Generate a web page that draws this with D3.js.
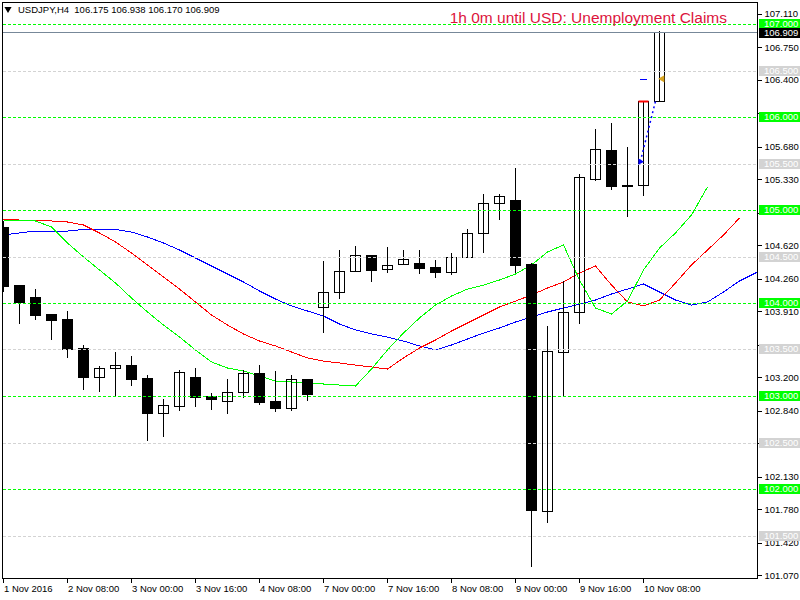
<!DOCTYPE html>
<html><head><meta charset="utf-8">
<script src="https://cdn.jsdelivr.net/npm/d3@7"></script>
<style>
body{margin:0;background:#fff}
svg{display:block}
text{font-family:"Liberation Sans",Arial,sans-serif}
</style>
</head><body>
<svg id="c" width="800" height="600"></svg>
<script>
// ---- data (H4 bars, index 0 = 1 Nov 2016 16:00) ----
const symbol = "USDJPY,H4";
const opens  = [104.817,104.193,104.064,103.882,103.828,103.516,103.204,103.301,103.333,103.193,102.817,102.892,103.204,103.000,102.946,103.043,103.247,102.946,102.871,103.183,103.957,104.118,104.344,104.516,104.366,104.419,104.430,104.387,104.333,104.495,104.753,105.075,105.108,104.419,101.763,103.473,103.903,105.333,105.645,105.269,105.269,106.175];
const highs  = [104.892,104.193,104.161,103.892,103.925,103.559,103.333,103.484,103.441,103.236,102.978,103.290,103.312,103.043,103.193,103.290,103.344,103.280,103.236,103.193,104.462,104.581,104.624,104.516,104.613,104.581,104.581,104.473,104.548,104.806,105.183,105.183,105.462,104.441,103.763,104.247,105.398,105.882,105.946,105.688,106.180,106.938];
const lows   = [104.129,103.785,103.828,103.613,103.419,103.075,103.054,103.000,103.118,102.527,102.570,102.849,102.892,102.860,102.817,102.989,102.914,102.839,102.849,102.957,103.688,104.054,104.344,104.237,104.333,104.419,104.323,104.280,104.312,104.495,104.548,104.903,104.333,101.172,101.645,103.000,103.785,105.323,105.226,104.935,105.161,106.170];
const closes = [104.183,104.011,103.871,103.817,103.505,103.204,103.301,103.333,103.183,102.817,102.903,103.258,102.989,102.968,103.043,103.247,102.935,102.871,103.183,103.021,104.118,104.344,104.516,104.355,104.409,104.473,104.376,104.333,104.495,104.753,105.075,105.150,104.409,101.774,103.484,103.903,105.355,105.656,105.258,105.269,106.172,106.909];
// Alligator lines (values per bar index, shifted forward)
const jaw   = [104.731,104.753,104.774,104.774,104.774,104.790,104.790,104.790,104.763,104.710,104.645,104.570,104.484,104.398,104.312,104.226,104.129,104.043,103.968,103.914,103.860,103.774,103.710,103.667,103.634,103.591,103.538,103.495,103.548,103.613,103.677,103.731,103.796,103.849,103.903,103.946,103.989,104.032,104.097,104.150,104.204,104.118,104.032,103.978,104.011,104.118,104.237,104.323,104.409,104.495];
const teeth = [104.903,104.892,104.887,104.882,104.871,104.839,104.753,104.656,104.538,104.409,104.280,104.150,104.011,103.871,103.763,103.667,103.591,103.538,103.473,103.409,103.376,103.355,103.333,103.312,103.290,103.409,103.516,103.602,103.699,103.785,103.871,103.957,104.021,104.086,104.161,104.226,104.323,104.398,104.193,104.011,103.968,104.032,104.215,104.409,104.570,104.731,104.914];
const lips  = [104.892,104.892,104.882,104.817,104.645,104.495,104.355,104.215,104.054,103.903,103.763,103.634,103.495,103.366,103.301,103.269,103.215,103.161,103.150,103.140,103.129,103.118,103.107,103.290,103.495,103.677,103.839,103.978,104.075,104.150,104.193,104.247,104.312,104.409,104.548,104.624,104.247,103.946,103.882,104.021,104.355,104.591,104.753,104.946,105.247];
const xTickBars   = [0,4,8,12,16,20,24,28,32,36,40];
const xTickLabels = ["1 Nov 2016","2 Nov 08:00","3 Nov 00:00","3 Nov 16:00","4 Nov 08:00","7 Nov 00:00","7 Nov 16:00","8 Nov 08:00","9 Nov 00:00","9 Nov 16:00","10 Nov 08:00"];
const yTicks = [107.110,106.750,106.400,106.040,105.680,105.330,104.970,104.620,104.260,103.910,103.550,103.200,102.840,102.490,102.130,101.780,101.420,101.070];
const hiddenTicks = [106.040,104.970,103.550,102.490];
const greenLevels = [107,106,105,104,103,102];
const grayLevels  = [106.5,105.5,104.5,103.5,102.5,101.5];
const bidPrice = 106.909;
const eventText = "1h 0m until USD: Unemployment Claims";
const tradeEntry = {bar:39.8, price:105.52};
const tradeExit  = {bar:40.75, price:106.17};
const pendingLevel = {bar0:39.8, bar1:40.2, price:106.41};
const arrowMark = {bar:41.05, price:106.41};

// ---- chart ----
const svg = d3.select("#c");
const L = 3, T = 3, R = 757, B = 578;
const x = d3.scaleLinear().domain([0, 41]).range([3.5, 659.5]);
const y = d3.scaleLinear().domain([101, 107]).range([582, 24]);
const px = v => Math.round(v) + 0.5;

svg.append("defs").append("clipPath").attr("id","clip")
  .append("rect").attr("x",L).attr("y",T).attr("width",R-L).attr("height",B-T);
const g = svg.append("g").attr("clip-path","url(#clip)");

// indicator lines (behind candles)
const lineGen = d3.line().x((d,i)=>x(i)).y(d=>y(d));
[[jaw,"#0000ff"],[teeth,"#ff0000"],[lips,"#00ff00"]].forEach(([arr,col])=>{
  g.append("path").attr("d", lineGen(arr)).attr("fill","none")
   .attr("stroke",col).attr("stroke-width",1).attr("shape-rendering","crispEdges");
});

// candles
const bars = d3.range(opens.length);
const cg = g.append("g").attr("shape-rendering","crispEdges");
bars.forEach(i=>{
  const cx = Math.floor(x(i)) + 0.5;
  const o=opens[i], c=closes[i];
  const top = px(y(Math.max(o,c))), bot = px(y(Math.min(o,c)));
  cg.append("line").attr("x1",cx).attr("x2",cx)
    .attr("y1",px(y(highs[i]))).attr("y2",px(y(lows[i]))).attr("stroke","#000");
  if (Math.abs(top-bot) < 1) {
    cg.append("line").attr("x1",cx-5.5).attr("x2",cx+5.5).attr("y1",top).attr("y2",top)
      .attr("stroke","#000").attr("stroke-width",2);
  } else {
    cg.append("rect").attr("x",cx-5).attr("y",top).attr("width",10).attr("height",bot-top)
      .attr("fill", c<o ? "#000" : "none").attr("stroke","#000");
  }
});

// level lines (foreground)
const lg = g.append("g").attr("shape-rendering","crispEdges");
grayLevels.forEach(v=>{
  lg.append("line").attr("x1",L).attr("x2",R).attr("y1",px(y(v))).attr("y2",px(y(v)))
    .attr("stroke","#d3d3d3").attr("stroke-dasharray","3,2");
});
greenLevels.forEach(v=>{
  lg.append("line").attr("x1",L).attr("x2",R).attr("y1",px(y(v))).attr("y2",px(y(v)))
    .attr("stroke","#00ff00").attr("stroke-dasharray","3,2");
});
lg.append("line").attr("x1",L).attr("x2",R).attr("y1",px(y(bidPrice))).attr("y2",px(y(bidPrice)))
  .attr("stroke","#778899");

// trade markers
const last = opens.length-1;
g.append("line").attr("x1",x(last-1)-5).attr("x2",x(last-1)+5)
  .attr("y1",px(y(closes[last-1]))).attr("y2",px(y(closes[last-1])))
  .attr("stroke","#ff0000").attr("stroke-width",2);
g.append("line").attr("x1",x(tradeEntry.bar)).attr("y1",y(tradeEntry.price))
  .attr("x2",x(tradeExit.bar)).attr("y2",y(tradeExit.price))
  .attr("stroke","#0000ff").attr("stroke-width",1.5).attr("stroke-dasharray","2,3");
g.append("path").attr("d",d3.symbol(d3.symbolTriangle,18)())
  .attr("transform",`translate(${x(tradeEntry.bar)},${y(tradeEntry.price)}) rotate(90)`)
  .attr("fill","#0000ff");
g.append("line").attr("x1",x(pendingLevel.bar0)).attr("x2",x(pendingLevel.bar1))
  .attr("y1",px(y(pendingLevel.price))).attr("y2",px(y(pendingLevel.price)))
  .attr("stroke","#0000ff").attr("shape-rendering","crispEdges");
g.append("path").attr("d",d3.symbol(d3.symbolTriangle,22)())
  .attr("transform",`translate(${x(arrowMark.bar)+2},${y(arrowMark.price)}) rotate(-90)`)
  .attr("fill","#daa520");

// frame
svg.append("rect").attr("x",2.5).attr("y",2.5).attr("width",R-2.5).attr("height",B-2)
  .attr("fill","none").attr("stroke","#000").attr("shape-rendering","crispEdges");

// right axis
const ya = svg.append("g").attr("transform",`translate(${R+0.5},0)`)
  .call(d3.axisRight(y).tickValues(yTicks).tickFormat(d3.format(".3f")).tickSize(4).tickPadding(3));
ya.select(".domain").remove();
ya.selectAll("line").attr("stroke","#000").attr("shape-rendering","crispEdges");
ya.selectAll("text").attr("font-size","9.5px").attr("font-family","'Liberation Sans',Arial,sans-serif").attr("fill","#000");
// tick labels fully covered by level boxes in the reference
ya.selectAll(".tick").filter(d=>hiddenTicks.includes(d)).select("text").remove();

function boxLabel(v, bg, off) {
  const yy = Math.round(y(v)) + (off||0);
  svg.append("rect").attr("x",759).attr("y",yy-5).attr("width",41).attr("height",10).attr("fill",bg);
  svg.append("text").attr("x",764).attr("y",yy).attr("dy","0.35em").attr("font-size","9.5px")
    .attr("fill","#fff").text(d3.format(".3f")(v));
}
grayLevels.forEach(v=>boxLabel(v,"#d3d3d3"));
greenLevels.forEach(v=>boxLabel(v,"#00ff00"));
boxLabel(bidPrice,"#000",1);

// bottom axis
const xa = svg.append("g").attr("transform",`translate(0,${B+0.5})`)
  .call(d3.axisBottom(x).tickValues(xTickBars).tickFormat((d,i)=>xTickLabels[i]).tickSize(4).tickPadding(3));
xa.select(".domain").remove();
xa.selectAll("line").attr("stroke","#000").attr("shape-rendering","crispEdges")
  .attr("transform","translate(-0.5,0)");
xa.selectAll("text").attr("text-anchor","start").attr("dx","0")
  .attr("font-size","9.5px").attr("font-family","'Liberation Sans',Arial,sans-serif").attr("fill","#000");

// titles
svg.append("path").attr("d",d3.symbol(d3.symbolTriangle,22)())
  .attr("transform","translate(8,9) rotate(180)").attr("fill","#000");
svg.append("text").attr("x",18).attr("y",13).attr("font-size","9.5px").attr("fill","#000")
  .attr("xml:space","preserve")
  .text(`${symbol}  ${opens[last].toFixed(3)} ${highs[last].toFixed(3)} ${lows[last].toFixed(3)} ${closes[last].toFixed(3)}`);
svg.append("text").attr("x",727).attr("y",23).attr("text-anchor","end").attr("font-size","15.5px")
  .attr("fill","#dc143c").text(eventText);
</script>
</body></html>
